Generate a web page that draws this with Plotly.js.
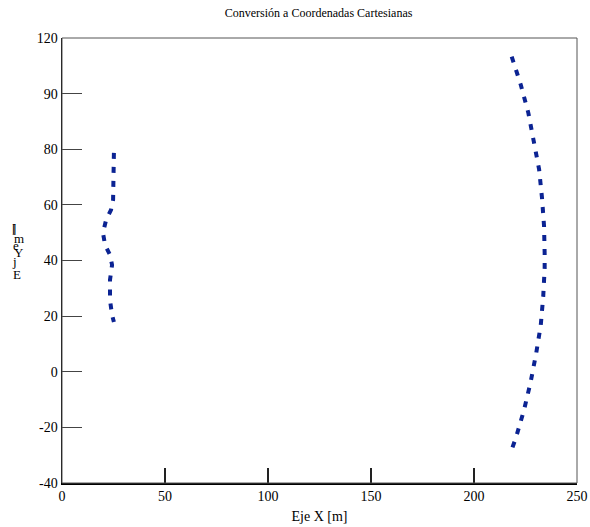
<!DOCTYPE html>
<html>
<head>
<meta charset="utf-8">
<script src="https://cdn.plot.ly/plotly-3.0.1.min.js"></script>
<style>html,body{margin:0;padding:0;background:#fff;}#chart{width:590px;height:527px;}</style>
</head>
<body>
<div id="chart"></div>
<script>
// Left curve (x, y in metres)
const leftX = [25.2, 24.8, 24.8, 23.8, 21.4, 19.9, 20.9, 23.3, 24.3, 23.3, 23.3, 24.3, 25.2];
const leftY = [78.7, 70.8, 61.8, 58.2, 54.6, 49.9, 45.6, 42.0, 38.4, 33.0, 25.8, 20.4, 17.9];
// Right curve
const rightX = [218.3, 222.7, 226.4, 229.1, 231.6, 233.0, 234.0, 234.3, 234.3, 233.6, 232.4, 230.2, 227.5, 224.3, 220.4, 217.4];
const rightY = [113.3, 103.2, 93.0, 83.0, 72.8, 62.6, 52.4, 42.4, 37.2, 27.0, 16.7, 6.7, -3.7, -13.7, -23.6, -29.9];
// Axis ticks
const xTicks = [0, 50, 100, 150, 200, 250];
const yTickVals = [-40, -20, 0, 20, 40, 60, 80, 100, 120];
const yTickText = ["-40", "-20", "0", "20", "40", "60", "80", "90", "120"];
// Broken y-axis label glyphs (stacked characters)
const yLabelChars = ["]", "[", "m", "e", "Y", "j", "E"];
const yLabelPx = [[14, 228], [14, 228], [19, 238], [16, 246], [19, 253], [14, 261], [17, 274]];

const lineStyle = {color: '#0b2393', width: 4, dash: '6px,8px'};
const serif = 'Times New Roman, Liberation Serif, DejaVu Serif, serif';
const font = {family: serif, size: 14, color: '#000'};
const titleFont = {family: serif, size: 12, color: '#000'};

const traces = [
  {x: leftX, y: leftY, mode: 'lines', line: lineStyle, hoverinfo: 'skip'},
  {x: rightX, y: rightY, mode: 'lines', line: lineStyle, hoverinfo: 'skip'}
];

const mL = 62, mT = 38, plotW = 515, plotH = 445;
const annotations = yLabelChars.map((c, i) => ({
  text: c, showarrow: false, xref: 'paper', yref: 'paper',
  x: (yLabelPx[i][0] - mL) / plotW, y: (mT + plotH - yLabelPx[i][1]) / plotH,
  xanchor: 'center', yanchor: 'middle', font: {family: serif, size: 13, color: '#000'}
}));

const layout = {
  width: 590, height: 527,
  margin: {l: mL, r: 13, t: mT, b: 44},
  paper_bgcolor: '#fff', plot_bgcolor: '#fff',
  showlegend: false,
  font: font,
  title: {text: 'Conversión a Coordenadas Cartesianas', font: titleFont, x: 0.54, xanchor: 'center', y: 0.975, yanchor: 'middle'},
  xaxis: {
    range: [0, 250], tickvals: xTicks, ticks: 'inside', ticklen: 15, tickwidth: 1.5, tickcolor: '#222',
    showline: true, linecolor: '#000', linewidth: 1.5, showgrid: false, zeroline: false,
    tickfont: font, title: {text: 'Eje X [m]', font: font, standoff: 8}
  },
  yaxis: {
    range: [-40, 120], tickvals: yTickVals, ticktext: yTickText, ticks: 'inside', ticklen: 20, tickwidth: 1, tickcolor: '#444',
    showline: true, linecolor: '#000', linewidth: 1.5, showgrid: false, zeroline: false,
    tickfont: font
  },
  shapes: [{type: 'rect', xref: 'paper', yref: 'paper', x0: 0, x1: 1, y0: 0, y1: 1, line: {color: '#555', width: 1}}],
  annotations: annotations
};

Plotly.newPlot('chart', traces, layout, {displayModeBar: false, staticPlot: true});
</script>
</body>
</html>
